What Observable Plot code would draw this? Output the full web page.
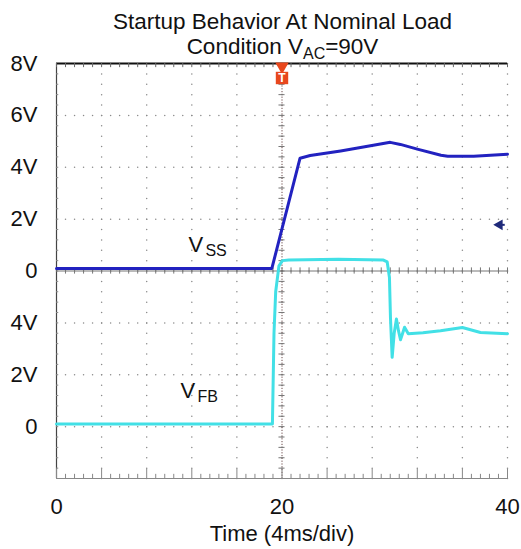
<!DOCTYPE html>
<html>
<head>
<meta charset="utf-8">
<script src="https://cdn.jsdelivr.net/npm/d3@7"></script>
<script src="https://cdn.jsdelivr.net/npm/@observablehq/plot@0.6"></script>
<style>
  html, body { margin: 0; padding: 0; background: #fff; }
  #wrap { width: 521px; height: 549px; overflow: hidden; font-family: "Liberation Sans", Arial, sans-serif; }
  #title { position: relative; z-index: 2; box-sizing: border-box; width: 521px; height: 40px; padding-top: 9px; padding-left: 44px;
           text-align: center; font-size: 22.5px; line-height: 25px; color: #111; white-space: nowrap; }
  #title .sub { font-size: 16px; position: relative; top: 5px; }
  #chart { position: relative; z-index: 1; }
  svg { display: block; }
</style>
</head>
<body>
<div id="wrap">
  <div id="title">Startup Behavior At Nominal Load<br>Condition V<span class="sub">AC</span>=90V</div>
  <div id="chart"></div>
</div>
<script>
// ---- data (time in ms, voltage in V) ----
const vssTime = [0, 19.1, 21.6, 22.5, 25.2, 28.1, 29.6, 30.5, 32.0, 34.1, 34.7, 37.0, 40];
const vssVolt = [0.1, 0.1, 4.35, 4.45, 4.63, 4.85, 4.96, 4.88, 4.7, 4.46, 4.42, 4.42, 4.5];

const vfbTime = [0, 19.15, 19.29, 19.44, 19.73, 20.04, 20.6, 25.0, 29.0, 29.33, 29.53, 29.62, 29.77,
                 29.95, 30.15, 30.33, 30.51, 30.7, 30.87, 31.2, 32.5, 34.06, 36.0, 37.6, 40];
const vfbVolt = [0.1, 0.1, 3.6, 5.2, 6.2, 6.4, 6.42, 6.45, 6.42, 6.35, 5.75, 4.2, 2.67,
                 3.6, 4.15, 3.7, 3.35, 3.6, 3.83, 3.58, 3.62, 3.7, 3.82, 3.63, 3.58];

// axis ticks / labels
const xTicks = [0, 20, 40];
const yTickPos = [1, 2, 3, 4, 5, 6, 7, 8];
const yTickLabels = ["0", "2V", "4V", "0", "2V", "4V", "6V", "8V"];

// channel placement on the scope screen (divisions)
const voltsPerDiv = 2;
const vssZeroDiv = 4;
const vfbZeroDiv = 1;

const vss = vssTime.map((t, i) => ({t, v: vssVolt[i]}));
const vfb = vfbTime.map((t, i) => ({t, v: vfbVolt[i]}));

// scope graticule
const xMajor = d3.range(0, 40.001, 4);
const xMinor = d3.range(0, 40.001, 0.8);
const yMajor = d3.range(0, 8.001, 1);
const yMinor = d3.range(0, 8.001, 0.2);
const hDots = yMajor.slice(1, -1).flatMap(y => xMinor.map(x => ({x, y})));
const vDots = xMajor.slice(1).flatMap(x => yMinor.map(y => ({x, y})));

const labels = [{name: "V", sub: "SS", t: 11.7, d: 4.5}, {name: "V", sub: "FB", t: 11.0, d: 1.68}];

const chart = Plot.plot({
  width: 521,
  height: 509,
  marginTop: 23,
  marginBottom: 71,
  marginLeft: 56,
  marginRight: 14,
  style: {fontFamily: "'Liberation Sans', Arial, sans-serif", fontSize: "22px", color: "#111", background: "transparent", overflow: "visible"},
  x: {domain: [0, 40], ticks: xTicks, tickSize: 0, tickPadding: 20, label: null},
  y: {domain: [0, 8], ticks: yTickPos, tickFormat: d => yTickLabels[yTickPos.indexOf(d)], tickSize: 0, tickPadding: 19, label: null},
  marks: [
    // graticule dots
    Plot.dot(hDots, {x: "x", y: "y", r: 0.75, fill: "#8a8a8a", stroke: null}),
    Plot.dot(vDots, {x: "x", y: "y", r: 0.75, fill: "#8a8a8a", stroke: null}),
    // center axes
    Plot.ruleY([vssZeroDiv], {stroke: "#777", strokeWidth: 1}),
    Plot.ruleX(xMinor, {x: d => d, y1: vssZeroDiv - 0.06, y2: vssZeroDiv + 0.06, stroke: "#777", strokeWidth: 1}),
    Plot.ruleX([20], {stroke: "#6b4a4a", strokeWidth: 1, strokeDasharray: "1.2,1.6"}),
    Plot.ruleY(yMinor, {y: d => d, x1: 19.73, x2: 20.27, stroke: "#777", strokeWidth: 1}),
    // borders
    Plot.ruleX([0], {stroke: "#444", strokeWidth: 1.2}),
    Plot.ruleY(yMinor, {y: d => d, x1: 0, x2: 0.2, stroke: "#888", strokeWidth: 1}),
    Plot.ruleY([0], {stroke: "#888", strokeWidth: 1}),
    Plot.ruleX(xMinor, {x: d => d, y1: 0, y2: d => (Math.abs(d / 4 - Math.round(d / 4)) < 1e-6 ? 0.18 : 0.08), stroke: "#888", strokeWidth: 1}),
    Plot.ruleY([8], {stroke: "#111", strokeWidth: 2}),
    Plot.ruleX(xMinor, {x: d => d, y1: 8, y2: 7.92, stroke: "#666", strokeWidth: 1}),
    // traces
    Plot.line(vss, {x: "t", y: d => vssZeroDiv + d.v / voltsPerDiv, stroke: "#2222c0", strokeWidth: 3}),
    Plot.line(vfb, {x: "t", y: d => vfbZeroDiv + d.v / voltsPerDiv, stroke: "#42e0e6", strokeWidth: 3}),
    // trace labels
    Plot.text(labels, {x: "t", y: "d", text: "name", textAnchor: "start", fontSize: 22, fill: "#111"}),
    Plot.text(labels, {x: "t", y: "d", text: "sub", textAnchor: "start", fontSize: 16, dx: 17, dy: 6, fill: "#111"}),
    // trigger marker
    Plot.ruleX([20], {y1: 8, y2: 7.7, stroke: "#6a9a3a", strokeWidth: 1}),
    Plot.dot([20], {x: d => d, y: 8, symbol: "triangle", rotate: 180, r: 5, dy: 3, fill: "#e8471d", stroke: null}),
    Plot.dot([20], {x: d => d, y: 8, symbol: "square", r: 7, dy: 14.5, fill: "#e8471d", stroke: null}),
    Plot.text([20], {x: d => d, y: 8, text: () => "T", dy: 14.5, fontSize: 12, fontWeight: "bold", fill: "#fff"}),
    // level marker on the right
    Plot.dot([40], {x: d => d, y: 4.89, symbol: "triangle", rotate: -90, r: 4, dx: -8, fill: "#1f2a7a", stroke: null}),
    Plot.ruleY([4.89], {x1: 39.3, x2: 39.8, stroke: "#1f2a7a", strokeWidth: 2}),
    // x axis label
    Plot.text(["Time (4ms/div)"], {frameAnchor: "bottom", lineAnchor: "middle", text: d => d, dy: 55, fontSize: 22, fill: "#111"})
  ]
});
document.getElementById("chart").appendChild(chart);
</script>
</body>
</html>
